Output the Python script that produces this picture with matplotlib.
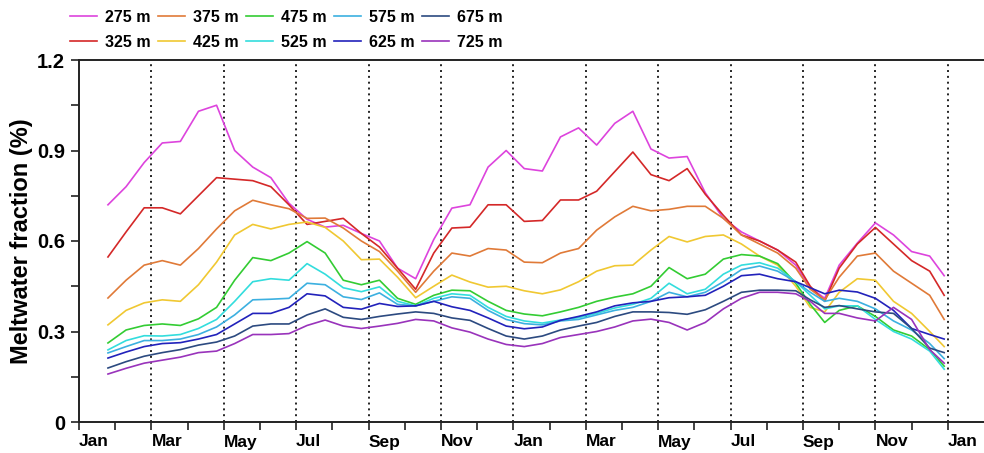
import numpy as np
import matplotlib
matplotlib.use("Agg")
import matplotlib.pyplot as plt

plt.rcParams["font.family"] = ["Liberation Sans", "DejaVu Sans"]
plt.rcParams["font.weight"] = "bold"

# Time axis in months since the first January
months = [0.8, 1.3, 1.8, 2.3, 2.8, 3.3, 3.8, 4.3, 4.8, 5.3, 5.8, 6.3, 6.8, 7.3, 7.8,
          8.3, 8.8, 9.3, 9.8, 10.3, 10.8, 11.3, 11.8, 12.3, 12.8, 13.3, 13.8, 14.3,
          14.8, 15.3, 15.8, 16.3, 16.8, 17.3, 17.8, 18.3, 18.8, 19.3, 19.8, 20.2,
          20.6, 21.0, 21.5, 22.0, 22.5, 23.0, 23.5, 23.9]

depth_labels = ["275 m", "325 m", "375 m", "425 m", "475 m",
                "525 m", "575 m", "625 m", "675 m", "725 m"]

frac_275 = [0.72, 0.78, 0.86, 0.925, 0.93, 1.03, 1.05, 0.90, 0.845, 0.81, 0.725, 0.672,
            0.646, 0.652, 0.625, 0.60, 0.51, 0.475, 0.605, 0.709, 0.72, 0.845, 0.90,
            0.84, 0.832, 0.945, 0.975, 0.918, 0.99, 1.03, 0.905, 0.875, 0.88, 0.76,
            0.675, 0.63, 0.60, 0.57, 0.52, 0.445, 0.41, 0.52, 0.593, 0.66, 0.62,
            0.565, 0.55, 0.485]
frac_325 = [0.547, 0.63, 0.71, 0.71, 0.69, 0.75, 0.81, 0.805, 0.80, 0.78, 0.72, 0.655,
            0.665, 0.675, 0.625, 0.58, 0.51, 0.44, 0.56, 0.643, 0.646, 0.72, 0.72,
            0.665, 0.668, 0.736, 0.736, 0.765, 0.83, 0.895, 0.82, 0.80, 0.84, 0.755,
            0.685, 0.62, 0.60, 0.57, 0.53, 0.45, 0.40, 0.51, 0.59, 0.645, 0.59,
            0.535, 0.50, 0.42]
frac_375 = [0.411, 0.47, 0.52, 0.535, 0.52, 0.575, 0.64, 0.70, 0.735, 0.72, 0.707,
            0.675, 0.676, 0.643, 0.60, 0.565, 0.50, 0.43, 0.50, 0.56, 0.55, 0.575,
            0.57, 0.53, 0.528, 0.56, 0.575, 0.636, 0.68, 0.715, 0.70, 0.705, 0.715,
            0.715, 0.675, 0.62, 0.59, 0.56, 0.51, 0.44, 0.405, 0.48, 0.55, 0.56,
            0.50, 0.46, 0.42, 0.34]
frac_425 = [0.322, 0.37, 0.395, 0.405, 0.40, 0.455, 0.53, 0.62, 0.655, 0.64, 0.655,
            0.663, 0.645, 0.60, 0.538, 0.54, 0.48, 0.412, 0.45, 0.487, 0.464, 0.447,
            0.45, 0.435, 0.425, 0.438, 0.465, 0.50, 0.518, 0.52, 0.57, 0.615, 0.597,
            0.615, 0.62, 0.59, 0.55, 0.52, 0.45, 0.38, 0.365, 0.43, 0.475, 0.47,
            0.40, 0.36, 0.30, 0.25]
frac_475 = [0.262, 0.305, 0.32, 0.325, 0.32, 0.342, 0.38, 0.47, 0.545, 0.535, 0.56,
            0.598, 0.56, 0.47, 0.455, 0.47, 0.41, 0.39, 0.42, 0.437, 0.435, 0.40,
            0.37, 0.358, 0.352, 0.365, 0.38, 0.40, 0.414, 0.425, 0.45, 0.512, 0.475,
            0.49, 0.54, 0.555, 0.55, 0.525, 0.46, 0.39, 0.33, 0.37, 0.385, 0.35,
            0.305, 0.285, 0.24, 0.185]
frac_525 = [0.239, 0.27, 0.286, 0.285, 0.29, 0.31, 0.34, 0.40, 0.465, 0.475, 0.47,
            0.525, 0.49, 0.445, 0.432, 0.448, 0.40, 0.385, 0.41, 0.425, 0.42, 0.38,
            0.35, 0.335, 0.328, 0.338, 0.346, 0.36, 0.378, 0.39, 0.41, 0.46, 0.425,
            0.44, 0.49, 0.52, 0.528, 0.51, 0.465, 0.42, 0.375, 0.385, 0.385, 0.34,
            0.30, 0.275, 0.235, 0.175]
frac_575 = [0.229, 0.25, 0.27, 0.27, 0.275, 0.29, 0.315, 0.355, 0.405, 0.407, 0.41,
            0.46, 0.455, 0.415, 0.406, 0.428, 0.39, 0.385, 0.40, 0.415, 0.41, 0.37,
            0.34, 0.326, 0.322, 0.335, 0.34, 0.355, 0.37, 0.38, 0.40, 0.43, 0.415,
            0.43, 0.465, 0.505, 0.517, 0.50, 0.465, 0.43, 0.40, 0.41, 0.40, 0.375,
            0.335, 0.305, 0.26, 0.21]
frac_625 = [0.212, 0.232, 0.25, 0.26, 0.263, 0.275, 0.29, 0.325, 0.36, 0.36, 0.38,
            0.425, 0.418, 0.38, 0.374, 0.393, 0.383, 0.385, 0.40, 0.382, 0.37, 0.345,
            0.318, 0.309, 0.315, 0.337, 0.35, 0.365, 0.385, 0.395, 0.40, 0.412, 0.415,
            0.42, 0.45, 0.485, 0.49, 0.475, 0.465, 0.445, 0.425, 0.437, 0.431, 0.41,
            0.37, 0.31, 0.29, 0.275]
frac_675 = [0.179, 0.20, 0.218, 0.23, 0.24, 0.255, 0.265, 0.285, 0.318, 0.325, 0.325,
            0.355, 0.375, 0.347, 0.34, 0.35, 0.358, 0.365, 0.36, 0.345, 0.337, 0.31,
            0.285, 0.275, 0.285, 0.305, 0.318, 0.33, 0.35, 0.365, 0.365, 0.363, 0.357,
            0.372, 0.40, 0.43, 0.437, 0.437, 0.435, 0.405, 0.38, 0.386, 0.375, 0.365,
            0.36, 0.31, 0.245, 0.23]
frac_725 = [0.159, 0.178, 0.195, 0.205, 0.215, 0.23, 0.235, 0.26, 0.29, 0.29, 0.293,
            0.32, 0.338, 0.318, 0.31, 0.318, 0.327, 0.34, 0.335, 0.312, 0.298, 0.275,
            0.257, 0.25, 0.26, 0.28, 0.29, 0.30, 0.315, 0.335, 0.341, 0.33, 0.305,
            0.33, 0.375, 0.41, 0.43, 0.43, 0.425, 0.40, 0.36, 0.36, 0.345, 0.335,
            0.38, 0.34, 0.24, 0.195]

series = [frac_275, frac_325, frac_375, frac_425, frac_475,
          frac_525, frac_575, frac_625, frac_675, frac_725]
colors = ["#dd44dd", "#d42828", "#e07a38", "#f0c832", "#33cc33",
          "#33dddd", "#3cb0e0", "#2222bb", "#2c4a80", "#9933bb"]

tick_months = list(range(0, 25, 2))
tick_labels = ["Jan", "Mar", "May", "Jul", "Sep", "Nov",
               "Jan", "Mar", "May", "Jul", "Sep", "Nov", "Jan"]

W, H = 984, 453
fig = plt.figure(figsize=(W / 100, H / 100), dpi=100)
ax = fig.add_axes([79 / W, 31 / H, (984 - 79) / W, (422 - 60) / H])

# dotted month guides
for m in tick_months[1:]:
    ax.axvline(m, color="#222222", lw=1.4, ls=(0, (1, 2)), zorder=1)

for vals, col, lab in zip(series, colors, depth_labels):
    ax.plot(months, vals, color=col, lw=1.2, label=lab, zorder=3)

ax.set_xlim(0, (984 - 79) / 36.2)
ax.set_ylim(0, 1.2)
ax.set_xticks(tick_months)
ax.set_xticklabels(tick_labels, ha="left")
ax.set_xticks(range(1, 25, 2), minor=True)
ax.set_yticks([0, 0.3, 0.6, 0.9, 1.2])
ax.set_yticklabels(["0", "0.3", "0.6", "0.9", "1.2"])
ax.set_yticks([0.15, 0.45, 0.75, 1.05], minor=True)

ax.tick_params(axis="both", which="both", direction="out", length=6, width=1.2,
               color="#222222")
ax.tick_params(axis="x", labelsize=12.5, pad=3)
ax.tick_params(axis="y", labelsize=14.5, pad=4)
for lbl in ax.get_xticklabels() + ax.get_yticklabels():
    lbl.set_fontweight("bold")

ax.spines["right"].set_visible(False)
for s in ["left", "bottom", "top"]:
    ax.spines[s].set_linewidth(1.4)
    ax.spines[s].set_color("#222222")

ax.set_ylabel("Meltwater fraction (%)", fontsize=17, fontweight="bold", labelpad=3)

fig.legend(loc="upper left", bbox_to_anchor=(70 / W, 1 - 10 / H), ncol=5,
           frameon=False, handlelength=1.7, handletextpad=0.5,
           columnspacing=0.45, labelspacing=0.62, borderpad=0, borderaxespad=0,
           prop={"weight": "bold", "size": 11.5})

fig.savefig("out.png", dpi=100)
